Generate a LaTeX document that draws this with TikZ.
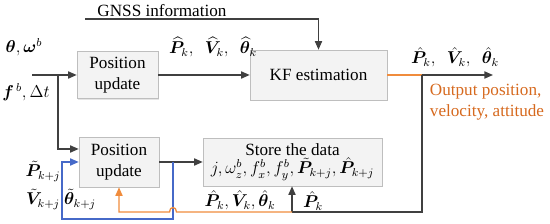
\documentclass[tikz,border=0pt]{standalone}
\usepackage{fontspec}
\setmainfont{Liberation Serif}
\usepackage{amsmath}
\usepackage{bm}
\usetikzlibrary{arrows.meta, positioning, shadows, calc}
\definecolor{boxfill}{RGB}{243, 243, 243}
\definecolor{boxline}{RGB}{190, 190, 190}
\definecolor{darkline}{RGB}{64, 64, 64}
\definecolor{lineorange}{RGB}{240, 140, 60}
\definecolor{textorange}{RGB}{214, 105, 30}
\definecolor{lineblue}{RGB}{70, 105, 200}

\begin{document}
\begin{tikzpicture}[
        x=0.7pt, y=-0.7pt,
        font=\fontsize{12}{15}\selectfont,
        block/.style={rectangle, draw=boxline, fill=boxfill, align=center, inner sep=1pt,
            drop shadow={shadow xshift=1pt, shadow yshift=-1pt, fill=black!20}},
        arrow/.style={-{Triangle[length=6pt, width=5pt]}, line width=0.9pt, draw=darkline},
        plain/.style={line width=0.9pt, draw=darkline},
        label/.style={inner sep=0pt}
    ]
        \useasboundingbox (0,0) rectangle (550,224);

        % Blocks
        \node[block, minimum width=56.7pt, minimum height=33pt] (posa) at (117.5,75) {Position\\update};
        \node[block, minimum width=95.9pt, minimum height=35pt] (kf) at (318.5,75) {KF estimation};
        \node[block, minimum width=56pt, minimum height=35pt] (posb) at (119,162) {Position\\update};
        \node[block, minimum width=125.3pt, minimum height=33.6pt] (store) at (292.5,162)
            {Store the data\\[-2pt] $j,\omega_z^{b},f_x^{b},f_y^{b},\tilde{\bm P}_{k+j},\hat{\bm P}_{k+j}$};

        % Helper points
        \coordinate (inp) at (32,75);
        \coordinate (split) at (58,75);
        \coordinate (gnssstart) at (85,19);
        \coordinate (tap) at (422,75);
        \coordinate (outp) at (493,75);
        \coordinate (low) at (422,212);
        \coordinate (junc) at (292,212);
        \coordinate (btap) at (173,162);
        \coordinate (bcorner) at (62,219);

        % Labels
        \node[label] (gnss) at (162,11) {GNSS information};
        \node[label] (inang) at (24,47) {$\bm{\theta},\bm{\omega}^{b}$};
        \node[label] (inacc) at (26,92) {$\bm{f}^{\,b},\Delta t$};
        \node[label] (preda) at (213,47) {$\widehat{\bm P}_{k},\ \ \widehat{\bm V}_{k},\ \ \widehat{\bm\theta}_{k}$};
        \node[label] (outlab) at (455,57) {$\hat{\bm P}_{k},\ \ \hat{\bm V}_{k},\ \ \hat{\bm\theta}_{k}$};
        \node[label, align=left, text=textorange] (outtext) at (487,102) {Output position,\\velocity, attitude};
        \node[label] (ptil) at (43,171) {$\tilde{\bm P}_{k+j}$};
        \node[label] (vtil) at (43,199) {$\tilde{\bm V}_{k+j}$};
        \node[label] (ttil) at (80,199) {$\tilde{\bm\theta}_{k+j}$};
        \node[label] (storeb) at (240,200) {$\hat{\bm P}_{k},\hat{\bm V}_{k},\hat{\bm\theta}_{k}$};
        \node[label] (pk) at (313,201) {$\hat{\bm P}_{k}$};

        % Connections
        \draw[arrow] (inp) -- (posa);
        \draw[arrow] (split) |- ($(posb.west)+(0,-13)$);
        \draw[arrow] (posa) -- (kf);
        \draw[arrow] (gnssstart) -| (kf.north);
        \draw[line width=0.9pt, draw=lineorange] (kf.east) -- (tap);
        \draw[arrow] (tap) -- (outp);
        \draw[plain] (tap) -- (low) -- (junc);
        \draw[arrow] (junc) -- (junc |- store.south);
        \draw[arrow] (posb) -- (store);
        \draw[arrow, draw=lineblue, -{Triangle[length=6pt, width=5pt, fill=lineblue]}] (btap) |- (bcorner) |- (posb.west);
        \draw[arrow, draw=lineorange, -{Triangle[length=6pt, width=5pt, fill=lineorange]}]
            (junc) -- (176.5,212) .. controls (176.5,206) and (169.5,206) .. (169.5,212)
            -- (posb.south |- junc) -- (posb.south);

    \end{tikzpicture}
\end{document}
